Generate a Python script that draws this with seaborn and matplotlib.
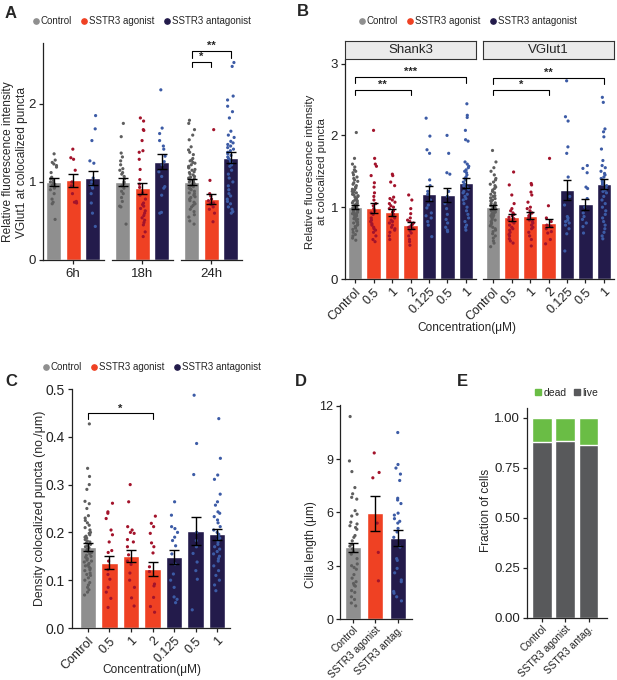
import numpy as np
import pandas as pd
import matplotlib
matplotlib.use("Agg")
import matplotlib.pyplot as plt
import seaborn as sns
from matplotlib.lines import Line2D

# ---------------- data ----------------
groups3 = ["Control", "SSTR3 agonist", "SSTR3 antagonist"]
timepoints = ["6h", "18h", "24h"]
A_means = {"6h": [1.00, 1.02, 1.05], "18h": [1.00, 0.92, 1.26], "24h": [1.00, 0.78, 1.31]}
A_sems = {"6h": [0.05, 0.08, 0.09], "18h": [0.05, 0.07, 0.10], "24h": [0.04, 0.06, 0.07]}
A_pts_6h_ctrl = [1.36, 1.28, 1.25, 1.23, 1.21, 1.19, 1.12, 1.06, 1.04, 1.02, 1.0, 0.99, 0.97, 0.96, 0.94, 0.92, 0.9, 0.85, 0.78, 0.74, 0.72, 0.52]
A_pts_6h_ago = [1.42, 1.31, 1.29, 1.15, 1.0, 0.95, 0.85, 0.75, 0.73, 0.74]
A_pts_6h_ant = [1.85, 1.68, 1.53, 1.27, 1.24, 1.05, 1.0, 0.96, 0.94, 0.92, 0.85, 0.73, 0.6, 0.43]
A_pts_18h_ctrl = [1.75, 1.58, 1.37, 1.32, 1.27, 1.22, 1.17, 1.15, 1.12, 1.1, 1.07, 1.04, 1.0, 0.98, 0.95, 0.92, 0.88, 0.85, 0.8, 0.75, 0.69, 0.68, 0.46]
A_pts_18h_ago = [1.82, 1.78, 1.67, 1.66, 1.53, 1.4, 1.38, 1.29, 1.16, 1.03, 0.97, 0.93, 0.86, 0.83, 0.78, 0.73, 0.71, 0.69, 0.66, 0.63, 0.6, 0.57, 0.54, 0.51, 0.48, 0.45, 0.36, 0.3]
A_pts_18h_ant = [2.18, 1.69, 1.62, 1.53, 1.46, 1.42, 1.33, 1.26, 1.22, 1.13, 1.07, 0.94, 0.92, 0.83, 0.61, 0.6]
A_pts_24h_ctrl = [1.79, 1.75, 1.67, 1.6, 1.54, 1.45, 1.41, 1.38, 1.35, 1.3, 1.28, 1.27, 1.25, 1.24, 1.22, 1.2, 1.19, 1.18, 1.16, 1.15, 1.13, 1.12, 1.1, 1.09, 1.07, 1.06, 1.05, 1.04, 1.02, 1.01, 1.0, 0.99, 0.98, 0.96, 0.95, 0.94, 0.92, 0.91, 0.9, 0.88, 0.86, 0.85, 0.83, 0.81, 0.8, 0.78, 0.76, 0.74, 0.72, 0.7, 0.68, 0.65, 0.62, 0.58, 0.55, 0.5, 0.46]
A_pts_24h_ago = [1.67, 1.02, 0.85, 0.82, 0.78, 0.76, 0.73, 0.71, 0.68, 0.65, 0.6, 0.49, 0.72]
A_pts_24h_ant = [2.53, 2.48, 2.1, 2.05, 1.97, 1.9, 1.82, 1.65, 1.6, 1.57, 1.52, 1.5, 1.48, 1.46, 1.44, 1.42, 1.4, 1.38, 1.36, 1.34, 1.32, 1.3, 1.28, 1.26, 1.24, 1.22, 1.2, 1.15, 1.1, 1.05, 1.0, 0.95, 0.9, 0.85, 0.82, 0.78, 0.75, 0.72, 0.68, 0.65, 0.62, 0.6]

conc_keys = ["Control", "ago0.5", "ago1", "ago2", "ant0.125", "ant0.5", "ant1"]
conc_labels = ["Control", "0.5", "1", "2", "0.125", "0.5", "1"]
B_shank_means = [1.00, 0.99, 0.93, 0.75, 1.19, 1.17, 1.34]
B_shank_sems = [0.025, 0.07, 0.05, 0.05, 0.11, 0.10, 0.07]
B_vglut_means = [1.00, 0.86, 0.88, 0.78, 1.24, 1.04, 1.32]
B_vglut_sems = [0.03, 0.05, 0.05, 0.05, 0.14, 0.08, 0.07]
B_shank_pts = [
    [2.04, 1.68, 1.6, 1.56, 1.52, 1.5, 1.48, 1.45, 1.42, 1.4, 1.38, 1.36, 1.34, 1.32, 1.3, 1.28, 1.27, 1.25, 1.24, 1.22, 1.21, 1.2, 1.18, 1.17, 1.16, 1.15, 1.14, 1.12, 1.11, 1.1, 1.09, 1.08, 1.07, 1.06, 1.05, 1.04, 1.03, 1.02, 1.01, 1.0, 0.99, 0.98, 0.97, 0.96, 0.95, 0.94, 0.93, 0.92, 0.91, 0.9, 0.89, 0.88, 0.87, 0.86, 0.85, 0.84, 0.83, 0.82, 0.8, 0.79, 0.78, 0.76, 0.75, 0.73, 0.71, 0.69, 0.67, 0.65, 0.62, 0.6, 0.57, 0.54],
    [2.07, 1.68, 1.6, 1.57, 1.44, 1.34, 1.28, 1.2, 1.15, 1.1, 1.05, 1.02, 0.98, 0.95, 0.92, 0.9, 0.85, 0.82, 0.8, 0.77, 0.75, 0.72, 0.7, 0.68, 0.65, 0.6, 0.55, 0.52],
    [1.46, 1.44, 1.35, 1.3, 1.14, 1.12, 1.1, 1.07, 1.05, 1.02, 1.0, 0.98, 0.95, 0.93, 0.9, 0.88, 0.85, 0.82, 0.8, 0.78, 0.75, 0.72, 0.7, 0.68, 0.65, 0.6, 0.55],
    [1.17, 1.1, 0.98, 0.91, 0.85, 0.82, 0.8, 0.78, 0.76, 0.74, 0.72, 0.7, 0.67, 0.64, 0.6, 0.55, 0.52, 0.47],
    [2.24, 1.99, 1.8, 1.75, 1.38, 1.3, 1.22, 1.18, 1.1, 1.03, 0.99, 0.92, 0.88, 0.85, 0.8, 0.75, 0.59],
    [2.0, 1.75, 1.48, 1.46, 1.22, 1.15, 1.05, 0.98, 0.9, 0.83, 0.78, 0.72, 0.68, 0.66],
    [2.44, 2.28, 2.25, 2.07, 1.94, 1.92, 1.63, 1.6, 1.57, 1.55, 1.52, 1.5, 1.48, 1.45, 1.42, 1.4, 1.38, 1.35, 1.32, 1.3, 1.28, 1.25, 1.22, 1.2, 1.18, 1.15, 1.12, 1.1, 1.05, 1.0, 0.95, 0.9, 0.85, 0.8, 0.75, 0.72, 0.68],
]
B_vglut_pts = [
    [1.79, 1.63, 1.55, 1.5, 1.45, 1.4, 1.38, 1.35, 1.32, 1.3, 1.28, 1.26, 1.24, 1.22, 1.2, 1.18, 1.16, 1.15, 1.13, 1.12, 1.1, 1.09, 1.08, 1.06, 1.05, 1.04, 1.03, 1.02, 1.01, 1.0, 0.99, 0.98, 0.97, 0.96, 0.95, 0.94, 0.93, 0.92, 0.91, 0.9, 0.89, 0.88, 0.87, 0.86, 0.85, 0.83, 0.82, 0.8, 0.78, 0.76, 0.74, 0.72, 0.7, 0.68, 0.66, 0.63, 0.6, 0.57, 0.53, 0.5, 0.45],
    [1.49, 1.31, 1.17, 1.05, 0.98, 0.95, 0.92, 0.9, 0.88, 0.86, 0.84, 0.82, 0.8, 0.78, 0.75, 0.72, 0.7, 0.68, 0.65, 0.62, 0.6, 0.56, 0.53, 0.5],
    [1.33, 1.31, 1.21, 1.17, 1.07, 1.0, 0.98, 0.95, 0.92, 0.9, 0.88, 0.85, 0.82, 0.8, 0.78, 0.75, 0.72, 0.7, 0.65, 0.6, 0.55, 0.46],
    [1.68, 1.02, 0.85, 0.8, 0.75, 0.73, 0.7, 0.66, 0.64, 0.55, 0.49],
    [2.76, 2.26, 2.2, 1.84, 1.75, 1.42, 1.15, 1.03, 0.87, 0.85, 0.82, 0.8, 0.78, 0.75, 0.7, 0.63, 0.39],
    [1.58, 1.54, 1.48, 1.28, 1.26, 1.12, 1.0, 0.92, 0.87, 0.83, 0.78, 0.73, 0.64],
    [2.53, 2.46, 2.09, 2.05, 1.98, 1.81, 1.65, 1.58, 1.55, 1.5, 1.47, 1.45, 1.42, 1.4, 1.38, 1.36, 1.34, 1.32, 1.3, 1.28, 1.26, 1.24, 1.22, 1.2, 1.15, 1.1, 1.05, 1.0, 0.95, 0.9, 0.85, 0.8, 0.75, 0.7, 0.65, 0.6, 0.56],
]

C_means = [0.170, 0.137, 0.151, 0.124, 0.148, 0.203, 0.196]
C_sems = [0.008, 0.013, 0.012, 0.015, 0.015, 0.030, 0.012]
C_pts = [
    [0.427, 0.334, 0.317, 0.3, 0.29, 0.265, 0.26, 0.25, 0.235, 0.23, 0.225, 0.22, 0.215, 0.21, 0.205, 0.2, 0.198, 0.195, 0.192, 0.19, 0.188, 0.185, 0.182, 0.18, 0.178, 0.175, 0.172, 0.17, 0.168, 0.165, 0.162, 0.16, 0.158, 0.155, 0.152, 0.15, 0.148, 0.145, 0.142, 0.14, 0.138, 0.135, 0.132, 0.13, 0.128, 0.125, 0.122, 0.12, 0.115, 0.112, 0.11, 0.105, 0.1, 0.095, 0.09, 0.085, 0.08, 0.075, 0.069],
    [0.261, 0.243, 0.24, 0.229, 0.205, 0.195, 0.18, 0.162, 0.158, 0.14, 0.122, 0.112, 0.102, 0.085, 0.075, 0.062, 0.043],
    [0.3, 0.264, 0.212, 0.205, 0.2, 0.198, 0.185, 0.18, 0.17, 0.153, 0.14, 0.133, 0.115, 0.1, 0.085, 0.063, 0.046],
    [0.234, 0.219, 0.212, 0.198, 0.178, 0.17, 0.157, 0.128, 0.118, 0.092, 0.088, 0.064, 0.045, 0.033],
    [0.264, 0.236, 0.212, 0.208, 0.2, 0.19, 0.183, 0.172, 0.155, 0.134, 0.113, 0.1, 0.085, 0.065, 0.06, 0.053],
    [0.487, 0.386, 0.321, 0.2, 0.183, 0.17, 0.156, 0.138, 0.12, 0.102, 0.038],
    [0.438, 0.355, 0.32, 0.311, 0.28, 0.264, 0.257, 0.243, 0.24, 0.233, 0.226, 0.22, 0.212, 0.205, 0.2, 0.196, 0.192, 0.188, 0.185, 0.18, 0.175, 0.17, 0.165, 0.16, 0.155, 0.15, 0.145, 0.14, 0.13, 0.12, 0.11, 0.1, 0.09, 0.078],
]

D_labels = ["Control", "SSTR3 agonist", "SSTR3 antag."]
D_means = [4.03, 5.95, 4.57]
D_sems = [0.27, 1.0, 0.45]
D_pts = [
    [11.4, 8.9, 8.3, 7.4, 7.05, 6.85, 6.75, 6.1, 5.9, 5.8, 5.45, 5.35, 5.25, 5.15, 5.05, 4.7, 4.6, 4.4, 4.2, 4.1, 3.95, 3.8, 3.65, 3.4, 3.1, 3.0, 2.9, 2.8, 2.5, 2.3, 2.1, 2.0, 1.9, 1.85, 1.6, 1.5, 1.25, 1.1, 0.9, 0.74],
    [9.35, 8.25, 7.95, 5.4, 3.75, 2.15],
    [10.5, 8.7, 8.5, 8.16, 7.8, 6.8, 6.7, 6.5, 5.96, 5.85, 5.65, 5.5, 5.4, 5.1, 4.9, 4.6, 4.05, 3.4, 3.3, 2.85, 2.6, 2.2, 2.1, 1.55, 1.45, 1.25, 1.02],
]

E_labels = ["Control", "SSTR3 agonist", "SSTR3 antag."]
E_live = [0.880, 0.883, 0.863]
E_total = [1.0, 1.0, 1.0]

# ---------------- style ----------------
sns.set_theme(style="ticks")
plt.rcParams["font.family"] = ["Liberation Sans", "DejaVu Sans"]
plt.rcParams["axes.linewidth"] = 0.9
plt.rcParams["axes.edgecolor"] = "#222222"
plt.rcParams["xtick.major.size"] = 3
plt.rcParams["ytick.major.size"] = 3
plt.rcParams["xtick.major.width"] = 0.9
plt.rcParams["ytick.major.width"] = 0.9
plt.rcParams["xtick.color"] = "#222222"
plt.rcParams["ytick.color"] = "#222222"
plt.rcParams["xtick.major.pad"] = 2
plt.rcParams["ytick.major.pad"] = 2

GRAY, GRAY_P = "#8f8f8f", "#5e5e5e"
RED, RED_P = "#ef4123", "#a3132b"
NAVY, NAVY_P = "#231b4b", "#3c5ba6"
GREEN, LIVE = "#6abd45", "#58595b"

W, H = 617, 680
fig = plt.figure(figsize=(W / 100, H / 100), dpi=100)


def add_ax(x0, y0, x1, y1):
    return fig.add_axes([x0 / W, 1 - y1 / H, (x1 - x0) / W, (y1 - y0) / H])


def ftext(x, y, s, **kw):
    fig.text(x / W, 1 - y / H, s, **kw)


def bars_points(ax, keys, means, sems, pts, bcols, pcols, width=0.78, cap=3.2, jitter=0.18):
    sns.barplot(x=keys, y=means, hue=keys, order=keys, hue_order=keys,
                palette=dict(zip(keys, bcols)), width=width, saturation=1,
                errorbar=None, legend=False, ax=ax, zorder=1)
    df = pd.DataFrame({"k": np.repeat(keys, [len(p) for p in pts]),
                       "v": np.concatenate(pts)})
    sns.stripplot(data=df, x="k", y="v", hue="k", order=keys, hue_order=keys,
                  palette=dict(zip(keys, pcols)), jitter=jitter, size=2.3,
                  linewidth=0, legend=False, ax=ax, zorder=3)
    ax.errorbar(np.arange(len(keys)), means, yerr=sems, fmt="none", ecolor="black",
                elinewidth=1.0, capsize=cap, capthick=1.0, zorder=5)
    ax.set_xlabel("")
    ax.set_ylabel("")


def bracket(ax, x0, x1, y, h, s, fs=8):
    ax.plot([x0, x0, x1, x1], [y - h, y, y, y - h], color="black", lw=0.8, zorder=6)
    ax.text((x0 + x1) / 2, y, s, ha="center", va="bottom", fontsize=fs, fontweight="bold")


def legend3(cx, cy):
    hs = [Line2D([], [], marker="o", ls="", color=c, markersize=3.8) for c in (GRAY, RED, NAVY)]
    fig.legend(hs, groups3, loc="center", bbox_to_anchor=(cx / W, 1 - cy / H), ncol=3,
               frameon=False, fontsize=7, handletextpad=0.05, columnspacing=0.8,
               handlelength=0.9, borderpad=0, borderaxespad=0)


np.random.seed(3)

# ---------------- Panel A ----------------
A_pts = {
    "6h": [A_pts_6h_ctrl, A_pts_6h_ago, A_pts_6h_ant],
    "18h": [A_pts_18h_ctrl, A_pts_18h_ago, A_pts_18h_ant],
    "24h": [A_pts_24h_ctrl, A_pts_24h_ago, A_pts_24h_ant],
}
A_x = [(43, 103.5), (112, 172.5), (181, 241.5)]
A_axes = []
for i, tp in enumerate(timepoints):
    ax = add_ax(A_x[i][0], 43, A_x[i][1], 260)
    bars_points(ax, groups3, A_means[tp], A_sems[tp], A_pts[tp],
                [GRAY, RED, NAVY], [GRAY_P, RED_P, NAVY_P], width=0.76, cap=3.4)
    ax.set_xlim(-0.55, 2.55)
    ax.set_ylim(0, 2.78)
    ax.set_xticks([1])
    ax.set_xticklabels([tp], fontsize=9.5)
    ax.tick_params(axis="x", pad=3)
    sns.despine(ax=ax)
    if i == 0:
        ax.set_yticks([0, 1, 2])
        ax.set_yticklabels(["0", "1", "2"], fontsize=9.5)
    else:
        ax.spines["left"].set_visible(False)
        ax.set_yticks([])
    A_axes.append(ax)
bracket(A_axes[2], 0, 2, 2.68, 0.09, "**")
bracket(A_axes[2], 0, 1, 2.54, 0.07, "*")
ftext(15, 162, "Relative fluorescence intensity\nVGlut1 at colocalized puncta",
      rotation=90, ha="center", va="center", fontsize=8.6, linespacing=1.15)
legend3(141, 21)
ftext(11, 13, "A", fontsize=12, fontweight="bold", ha="center", va="center")

# ---------------- Panel B ----------------
conc_bcols = [GRAY, RED, RED, RED, NAVY, NAVY, NAVY]
conc_pcols = [GRAY_P, RED_P, RED_P, RED_P, NAVY_P, NAVY_P, NAVY_P]
B_specs = [("Shank3", 345, 476, B_shank_means, B_shank_sems, B_shank_pts),
           ("VGlut1", 483, 614, B_vglut_means, B_vglut_sems, B_vglut_pts)]
B_axes = []
for j, (name, x0, x1, m, s, p) in enumerate(B_specs):
    ax = add_ax(x0, 60, x1, 279)
    bars_points(ax, conc_keys, m, s, p, conc_bcols, conc_pcols, width=0.78, cap=2.8, jitter=0.16)
    ax.set_xlim(-0.55, 6.55)
    ax.set_ylim(0, 3.05)
    ax.set_xticks(range(7))
    ax.set_xticklabels(conc_labels, rotation=45, ha="right", rotation_mode="anchor", fontsize=9)
    sns.despine(ax=ax)
    if j == 0:
        ax.set_yticks([0, 1, 2, 3])
        ax.set_yticklabels(["0", "1", "2", "3"], fontsize=9.5)
    else:
        ax.spines["left"].set_visible(False)
        ax.set_yticks([])
    sax = add_ax(x0, 41, x1, 59)
    sax.set_facecolor("#ebebeb")
    sax.set_xticks([])
    sax.set_yticks([])
    for sp in sax.spines.values():
        sp.set_visible(True)
        sp.set_color("#333333")
        sp.set_linewidth(0.8)
    sax.text(0.5, 0.5, name, ha="center", va="center", fontsize=9.5, transform=sax.transAxes)
    B_axes.append(ax)
bracket(B_axes[0], 0, 6, 2.81, 0.08, "***")
bracket(B_axes[0], 0, 3, 2.63, 0.07, "**")
bracket(B_axes[1], 0, 6, 2.80, 0.08, "**")
bracket(B_axes[1], 0, 3, 2.63, 0.07, "*")
ftext(316, 172, "Relative fluorescence intensity\nat colocalized puncta",
      rotation=90, ha="center", va="center", fontsize=8.2, linespacing=1.2)
ftext(467, 328, "Concentration(\u03bcM)", ha="center", va="center", fontsize=8.6)
legend3(467, 21)
ftext(303, 11, "B", fontsize=12, fontweight="bold", ha="center", va="center")

# ---------------- Panel C ----------------
axC = add_ax(72, 389, 230, 628)
bars_points(axC, conc_keys, C_means, C_sems, C_pts, conc_bcols, conc_pcols, width=0.76, cap=3.6, jitter=0.17)
axC.set_xlim(-0.74, 6.6)
axC.set_ylim(0, 0.5)
axC.set_yticks([0, 0.1, 0.2, 0.3, 0.4, 0.5])
axC.set_yticklabels(["0.0", "0.1", "0.2", "0.3", "0.4", "0.5"], fontsize=10)
axC.set_xticks(range(7))
axC.set_xticklabels(conc_labels, rotation=45, ha="right", rotation_mode="anchor", fontsize=9)
sns.despine(ax=axC)
bracket(axC, 0, 3, 0.449, 0.012, "*")
ftext(40, 508, "Density colocalized puncta (no./\u03bcm)", rotation=90, ha="center", va="center", fontsize=8.8)
ftext(152, 670, "Concentration(\u03bcM)", ha="center", va="center", fontsize=8.6)
legend3(151, 367)
ftext(11, 381, "C", fontsize=12, fontweight="bold", ha="center", va="center")

# ---------------- Panel D ----------------
axD = add_ax(340, 405, 412, 619)
bars_points(axD, D_labels, D_means, D_sems, D_pts, [GRAY, RED, NAVY], [GRAY_P, RED_P, NAVY_P],
            width=0.72, cap=3.6, jitter=0.18)
axD.set_xlim(-0.6, 2.65)
axD.set_ylim(0, 12.05)
axD.set_yticks([0, 3, 6, 9, 12])
axD.set_yticklabels(["0", "3", "6", "9", "12"], fontsize=9)
axD.set_xticks(range(3))
axD.set_xticklabels(D_labels, rotation=45, ha="right", rotation_mode="anchor", fontsize=7.3)
axD.tick_params(axis="x", pad=1)
sns.despine(ax=axD)
ftext(311, 545, "Cilia length (\u03bcm)", rotation=90, ha="center", va="center", fontsize=8.6)
ftext(301, 381, "D", fontsize=12, fontweight="bold", ha="center", va="center")

# ---------------- Panel E ----------------
axE = add_ax(527, 408, 607, 618)
sns.barplot(x=E_labels, y=E_total, color=GREEN, saturation=1, width=0.86, errorbar=None, ax=axE)
sns.barplot(x=E_labels, y=E_live, color=LIVE, saturation=1, width=0.86, errorbar=None, ax=axE)
axE.set_xlim(-0.66, 2.8)
axE.set_ylim(0, 1.05)
axE.set_yticks([0, 0.25, 0.5, 0.75, 1.0])
axE.set_yticklabels(["0.00", "0.25", "0.50", "0.75", "1.00"], fontsize=9.5)
axE.set_xticks(range(3))
axE.set_xticklabels(E_labels, rotation=45, ha="right", rotation_mode="anchor", fontsize=7.3)
axE.tick_params(axis="x", pad=1)
axE.set_xlabel("")
axE.set_ylabel("")
sns.despine(ax=axE)
ftext(486, 510, "Fraction of cells", rotation=90, ha="center", va="center", fontsize=8.6)
hsE = [Line2D([], [], marker="s", ls="", color=c, markersize=5) for c in (GREEN, LIVE)]
fig.legend(hsE, ["dead", "live"], loc="center", bbox_to_anchor=(566 / W, 1 - 393 / H), ncol=2,
           frameon=False, fontsize=7.5, handletextpad=0.05, columnspacing=0.6,
           handlelength=0.9, borderpad=0, borderaxespad=0)
ftext(462, 382, "E", fontsize=12, fontweight="bold", ha="center", va="center")

fig.savefig("out.png", dpi=100)
